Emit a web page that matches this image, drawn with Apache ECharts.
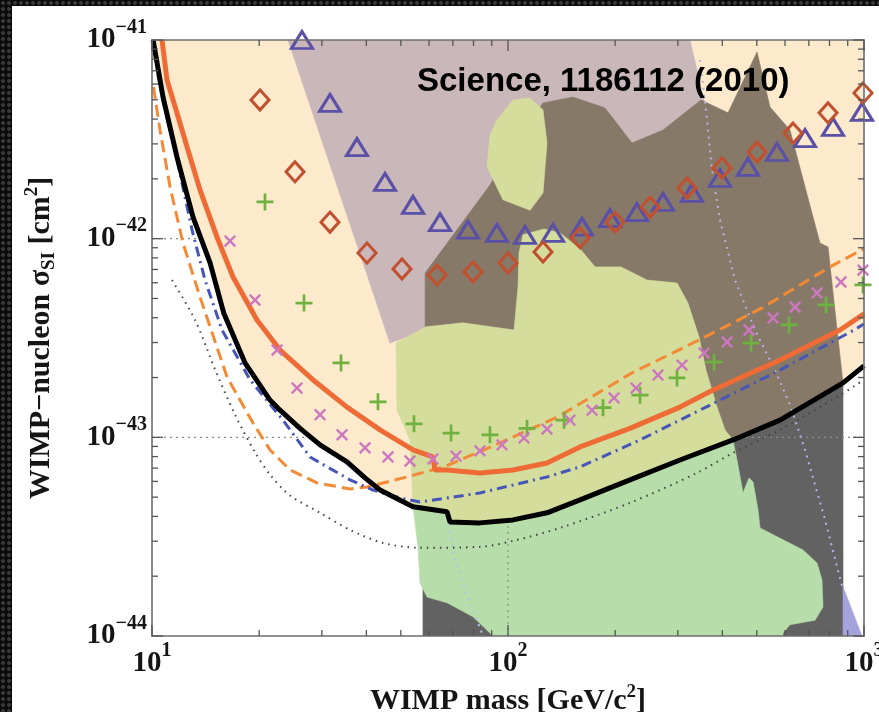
<!DOCTYPE html>
<html><head><meta charset="utf-8">
<script src="https://cdn.jsdelivr.net/npm/echarts@6/dist/echarts.min.js"></script>
<style>
html,body{margin:0;padding:0;width:879px;height:712px;overflow:hidden;
background-color:#0b0b0b;
background-image:radial-gradient(circle, #3a3a3a 1.5px, rgba(0,0,0,0) 2.2px);
background-size:6px 6px;}
#chart{position:absolute;left:12px;top:6px;width:867px;height:706px;background:#fff;}
</style></head><body><div id="chart"></div>
<script>
// ---------- data (mass in GeV/c^2, cross-section in cm^2) ----------
const xMajorTicks = [10, 100, 1000];
const xMinorTicks = [20,30,40,50,60,70,80,90,200,300,400,500,600,700,800,900];
const yMajorTicks = [1e-44, 1e-43, 1e-42, 1e-41];
const yMinorTicks = [2e-44,3e-44,4e-44,5e-44,6e-44,7e-44,8e-44,9e-44,
                     2e-43,3e-43,4e-43,5e-43,6e-43,7e-43,8e-43,9e-43,
                     2e-42,3e-42,4e-42,5e-42,6e-42,7e-42,8e-42,9e-42];
const gridSigma = [1e-43, 1e-42];
const gridMass = [100];

const blackLimit = [[10.07,1.0e-41],[10.74,5.16e-42],[11.75,2.58e-42],[13.04,1.285e-42],[14.56,7.55e-43],[15.9,4.23e-43],[18.25,2.37e-43],[21.45,1.54e-43],[22.89,1.37e-43],[26.05,1.11e-43],[29.65,9.16e-44],[35.3,7.52e-44],[39.66,6.25e-44],[43.7,5.43e-44],[54.1,4.47e-44],[67.4,4.22e-44],[68.7,3.75e-44],[83.4,3.71e-44],[103.3,3.84e-44],[128.7,4.17e-44],[159.3,4.84e-44],[220.1,6.11e-44],[304.2,7.69e-44],[428.5,9.70e-44],[580.8,1.22e-43],[873,1.88e-43],[1000,2.29e-43]];

const orangeLimit = [[10.67,1.0e-41],[11.02,6.29e-42],[11.75,4.30e-42],[12.54,2.90e-42],[13.64,1.76e-42],[15.22,1.02e-42],[16.89,6.41e-43],[19.72,3.90e-43],[22.89,2.75e-43],[28.3,1.95e-43],[35.3,1.42e-43],[43.7,1.09e-43],[54.1,8.65e-44],[61.5,7.97e-44],[62.4,6.85e-44],[67.4,6.85e-44],[83.4,6.62e-44],[103.3,6.85e-44],[128.7,7.43e-44],[159.3,8.95e-44],[220.1,1.11e-43],[304.2,1.42e-43],[376.6,1.73e-43],[580.8,2.45e-43],[856,3.47e-43],[1000,4.18e-43]];

const orangeDashed = [[10.1,5.8e-42],[10.53,3.52e-42],[11.24,1.82e-42],[12.22,9.51e-43],[13.64,5.09e-43],[16.25,2.01e-43],[19.22,1.18e-43],[21.45,8.65e-44],[24.41,6.85e-44],[29.08,5.90e-44],[35.98,5.50e-44],[40.18,5.62e-44],[52.03,6.32e-44],[66.1,7.10e-44],[94.95,9.37e-44],[138.2,1.27e-43],[223.0,2.11e-43],[344.0,3.09e-43],[517.0,4.48e-43],[802.7,7.21e-43],[1000,8.9e-43]];

const blueDashDot = [[10.39,6.67e-42],[10.88,4.45e-42],[11.6,2.79e-42],[12.95,1.11e-42],[14.09,6.19e-43],[15.73,3.47e-43],[18.85,1.95e-43],[23.33,1.22e-43],[27.79,7.96e-44],[35.98,6.11e-44],[41.77,5.43e-44],[49.74,4.95e-44],[56.59,4.73e-44],[67.4,4.95e-44],[83.4,5.25e-44],[128.7,6.32e-44],[159.3,7.10e-44],[234.9,9.70e-44],[359.9,1.42e-43],[580.8,2.18e-43],[937.4,3.47e-43],[1000,3.72e-43]];

const blackDotted = [[11.38,6.19e-43],[13.21,3.90e-43],[15.03,2.2e-43],[17.11,1.3e-43],[19.47,8.4e-44],[21.45,6.5e-44],[24.41,5.1e-44],[29.65,4.17e-44],[35.98,3.42e-44],[44.56,2.94e-44],[56.59,2.78e-44],[83.4,2.81e-44],[103.3,3.01e-44],[142.7,3.54e-44],[220.1,4.68e-44],[339.6,6.62e-44],[428.5,8.35e-44],[580.8,1.09e-43],[856,1.63e-43],[1000,1.95e-43]];

const lavenderDotted = [[346.2,7.93e-42],[359.9,4.45e-42],[374.1,2.22e-42],[394,1.24e-42],[434.1,6.19e-43],[494.1,3.47e-43],[562.3,2.18e-43],[619.6,1.46e-43],[682.9,8.65e-44],[777.3,3.84e-44],[873,1.71e-44]];

const lightBlueDotted = [[67.4,3.97e-44],[71.0,2.42e-44],[76.7,1.61e-44],[85.1,1.0e-44]];

const triangles = [[26.38,1.0e-41],[31.62,4.82e-42],[37.65,2.89e-42],[45.13,1.93e-42],[54.1,1.48e-42],[64.42,1.21e-42],[77.2,1.11e-42],[93.1,1.07e-42],[111.6,1.045e-42],[133.8,1.07e-42],[161.4,1.15e-42],[193.4,1.27e-42],[230.3,1.36e-42],[272.5,1.53e-42],[328.7,1.70e-42],[394.0,2.02e-42],[472.3,2.30e-42],[569.7,2.73e-42],[682.9,3.21e-42],[818.4,3.65e-42],[987.2,4.35e-42]];

const diamonds = [[20.11,4.99e-42],[25.22,2.17e-42],[31.62,1.21e-42],[40.18,8.47e-43],[50.37,7.04e-43],[63.18,6.57e-43],[79.74,6.80e-43],[100.0,7.55e-43],[125.4,8.57e-43],[159.3,1.01e-42],[199.8,1.21e-42],[250.6,1.44e-42],[318.3,1.80e-42],[399.2,2.27e-42],[500.7,2.73e-42],[631.8,3.40e-42],[792.5,4.30e-42],[993.6,5.41e-42]];

const pluses = [[20.77,1.53e-42],[26.73,4.74e-43],[33.96,2.37e-43],[43.13,1.51e-43],[54.45,1.17e-43],[69.18,1.05e-43],[88.99,1.03e-43],[113.1,1.11e-43],[143.7,1.22e-43],[184.9,1.41e-43],[234.9,1.63e-43],[298.4,1.99e-43],[379.1,2.39e-43],[481.6,2.98e-43],[615.7,3.68e-43],[782.4,4.64e-43],[993.6,5.85e-43]];

const crosses = [[16.56,9.73e-43],[19.47,4.91e-43],[22.45,2.75e-43],[25.55,1.77e-43],[29.65,1.30e-43],[34.18,1.03e-43],[39.66,8.85e-44],[46.02,7.97e-44],[53.05,7.60e-44],[61.55,7.78e-44],[71.44,8.05e-44],[83.42,8.55e-44],[96.2,9.16e-44],[110.9,9.93e-44],[128.7,1.10e-43],[149.3,1.22e-43],[172.2,1.37e-43],[198.6,1.58e-43],[228.8,1.77e-43],[263.8,2.06e-43],[308.2,2.31e-43],[355.3,2.66e-43],[412.3,3.02e-43],[475.3,3.47e-43],[555.2,3.99e-43],[640.3,4.53e-43],[738.0,5.33e-43],[861.7,6.05e-43],[993.6,6.95e-43]];

// shaded regions (boundaries; parts along the black limit are taken from blackLimit)
const mauveRegion = [[24.10,1e-41],[324.5,1e-41],[357.6,4.71e-42],[181.3,1.57e-42],[58.5,3.47e-43],[46.62,2.98e-43]];
const brownTopEdge = [[125.4,4.82e-42],[152.3,5.16e-42],[187.3,4.55e-42],[223.0,3.03e-42],[272.5,3.52e-42],[348.4,4.99e-42],[415.0,4.30e-42],[500.7,8.71e-42],[544.5,4.60e-42],[619.6,3.52e-42],[719.1,1.285e-42],[752.2,9.51e-43],[792.5,9.08e-43],[840.2,3.47e-43]];
const brownLeftEdge = [[58.5,3.60e-43],[58.5,6.71e-43],[89.0,1.86e-42],[101.3,2.79e-42]];
const brownMassRange = [873, 58.5];
const ellipseRegion = [[103.3,4.99e-42],[115.3,5.11e-42],[125.4,4.45e-42],[128.7,3.03e-42],[125.4,1.70e-42],[115.3,1.39e-42],[96.8,1.57e-42],[87.3,2.30e-42],[89.0,3.32e-42],[93.1,3.96e-42]];
const yellowGreenEdge = [[53.05,9.70e-44],[48.76,1.37e-43],[48.45,2.98e-43],[58.85,3.60e-43],[74.75,3.77e-43],[104.0,3.47e-43],[106.7,5.71e-43],[107.4,8.47e-43],[110.2,1.045e-42],[126.2,1.12e-42],[140.0,1.07e-42],[160.4,8.77e-43],[175.6,7.21e-43],[207.7,7.21e-43],[245.7,6.19e-43],[298.4,5.98e-43],[320.3,4.74e-43],[344.0,3.20e-43],[359.9,2.18e-43],[386.5,1.42e-43],[407.0,1.09e-43]];
const yellowGreenMassRange = [428.5, 54.1];
const greenEdge = [[439.9,7.69e-44],[457.2,5.25e-44],[475.3,6.25e-44],[487.8,5.97e-44],[503.8,4.32e-44],[510.4,3.50e-44],[592.3,3.05e-44],[674.4,2.71e-44],[738.0,2.33e-44],[762.2,1.91e-44],[767.1,1.40e-44],[728.5,1.20e-44],[619.6,1.14e-44],[592.3,1.035e-44],[592.3,1e-44],[90.76,1e-44],[79.74,1.25e-44],[67.4,1.47e-44],[59.23,1.57e-44],[56.59,1.85e-44],[55.87,2.81e-44]];
const greenMassRange = [54.1, 428.5];
const grayEdge = [[873,1e-44],[57.7,1e-44]];
const grayMassRange = [57.7, 873];
const lavenderRegion = [[873,1.77e-44],[987,1e-44],[873,1e-44]];

// ---------- helpers ----------
const U = 1e-44; // y-axis internal unit
function interpBlack(m){
  for (let i=0;i<blackLimit.length-1;i++){
    const a=blackLimit[i], b=blackLimit[i+1];
    if (m>=a[0] && m<=b[0]){
      const t=(Math.log(m)-Math.log(a[0]))/(Math.log(b[0])-Math.log(a[0]));
      return Math.exp(Math.log(a[1])+t*(Math.log(b[1])-Math.log(a[1])));
    }
  }
  return blackLimit[blackLimit.length-1][1];
}
function blackSeg(m1,m2){
  const lo=Math.min(m1,m2), hi=Math.max(m1,m2);
  const pts=[[lo,interpBlack(lo)]].concat(blackLimit.filter(p=>p[0]>lo&&p[0]<hi)).concat([[hi,interpBlack(hi)]]);
  return m1<=m2?pts:pts.reverse();
}
const conv = arr => arr.map(p=>[p[0], p[1]/U]);

function regionSeries(name, pts, color, z){
  return {type:'custom', name, z, silent:true, clip:true, data:[[10,1]],
    renderItem(params, api){
      const points = pts.map(p=>api.coord([p[0], p[1]/U]));
      return {type:'polygon', shape:{points}, style:{fill:color, stroke:color, lineWidth:0.6}};
    }};
}
function lineSeries(name, pts, color, width, type, z, smooth){
  return {type:'line', name, z, silent:true, data:conv(pts), symbol:'none', smooth:smooth||false,
    lineStyle:{color, width, type, cap:'butt'}};
}
function scatterSeries(name, pts, symbol, size, color, fill, bw, rot, z){
  return {type:'scatter', name, z, silent:true, clip:false, data:conv(pts), symbol, symbolSize:size,
    symbolRotate:rot||0,
    itemStyle:{color:fill, borderColor:color, borderWidth:bw, opacity:1}};
}

const peachRegion = [[10,1e-41]].concat(blackLimit, [[1000,1e-41]]);
const brownRegion = brownTopEdge.concat(blackSeg(brownMassRange[0], brownMassRange[1]), brownLeftEdge);
const yellowGreenRegion = yellowGreenEdge.concat(blackSeg(yellowGreenMassRange[0], yellowGreenMassRange[1]));
const greenRegion = blackSeg(greenMassRange[0], greenMassRange[1]).concat(greenEdge);
const grayRegion = blackSeg(grayMassRange[0], grayMassRange[1]).concat(grayEdge);

const SERIF = '"Liberation Serif","Times New Roman",serif';
const richTick = {
  b:{fontFamily:SERIF, fontWeight:'bold', fontSize:29, color:'#151515'},
  s:{fontFamily:SERIF, fontWeight:'bold', fontSize:20, color:'#151515', padding:[0,0,25,0]}
};
const richName = {
  n:{fontFamily:SERIF, fontWeight:'bold', fontSize:30, color:'#151515'},
  sb:{fontFamily:SERIF, fontWeight:'bold', fontSize:19, color:'#151515', padding:[16,0,0,0]},
  sp:{fontFamily:SERIF, fontWeight:'bold', fontSize:19, color:'#151515', padding:[0,0,18,0]}
};

const tickData = [];
xMajorTicks.forEach(v=>tickData.push([v,1,11,0]));
xMinorTicks.forEach(v=>tickData.push([v,1,6,0]));
yMajorTicks.forEach(v=>tickData.push([10,v/U,11,1]));
yMinorTicks.forEach(v=>tickData.push([10,v/U,6,1]));

const gridLines = [];
gridSigma.forEach(s=>gridLines.push({type:'line', z:3, silent:true, symbol:'none', data:[[10,s/U],[1000,s/U]], lineStyle:{color:'#8a8a8a', width:1.2, type:[2,4]}}));
gridMass.forEach(m=>gridLines.push({type:'line', z:3, silent:true, symbol:'none', data:[[m,1],[m,1000]], lineStyle:{color:'#7aa070', width:1.2, type:[2,4]}}));

const axisLineStyle = {show:true, lineStyle:{color:'#6e6e6e', width:1.6}};
const chart = echarts.init(document.getElementById('chart'), null, {renderer:'canvas'});
chart.setOption({
  animation:false,
  backgroundColor:'#ffffff',
  title:{text:'Science, 1186112 (2010)', left:405, top:59, padding:0, z:30,
    textStyle:{fontFamily:'"Liberation Sans",Arial,sans-serif', fontWeight:'bold', fontSize:33, color:'#000'}},
  grid:{left:140, top:34, right:15, bottom:76, containLabel:false, outerBoundsMode:'none'},
  xAxis:[
    {type:'log', logBase:10, min:10, max:1000, position:'bottom', z:20,
      axisLine:axisLineStyle, axisTick:{show:false}, splitLine:{show:false},
      axisLabel:{margin:5, formatter:v=>'{b|10}{s|'+Math.round(Math.log10(v))+'}', rich:richTick},
      name:'{n|WIMP mass [GeV/c}{sp|2}{n|]}', nameLocation:'middle', nameGap:37,
      nameTextStyle:{rich:richName}},
    {type:'log', logBase:10, min:10, max:1000, position:'top', z:20,
      axisLine:axisLineStyle, axisTick:{show:false}, splitLine:{show:false}, axisLabel:{show:false}}
  ],
  yAxis:[
    {type:'log', logBase:10, min:1, max:1000, position:'left', z:20,
      axisLine:axisLineStyle, axisTick:{show:false}, splitLine:{show:false},
      axisLabel:{margin:5, formatter:v=>'{b|10}{s|\u2212'+(44-Math.round(Math.log10(v)))+'}', rich:richTick},
      name:'{n|WIMP\u2212nucleon \u03c3}{sb|SI}{n| [cm}{sp|2}{n|]}', nameLocation:'middle', nameGap:92, nameRotate:90,
      nameTextStyle:{rich:richName}},
    {type:'log', logBase:10, min:1, max:1000, position:'right', z:20,
      axisLine:axisLineStyle, axisTick:{show:false}, splitLine:{show:false}, axisLabel:{show:false}}
  ],
  series:[
    regionSeries('gray', grayRegion, '#626262', 1),
    regionSeries('lavender', lavenderRegion, '#a5a3dc', 2),
    regionSeries('green', greenRegion, '#b7ddaa', 2),
    ...gridLines,
    regionSeries('peach', peachRegion, '#fdeacd', 4),
    regionSeries('mauve', mauveRegion, '#c9b7b9', 5),
    regionSeries('brown', brownRegion, '#867968', 6),
    regionSeries('yellowgreen', yellowGreenRegion, '#d5dd9d', 7),
    regionSeries('ellipse', ellipseRegion, '#d5dd9d', 7),
    lineSeries('lavenderDotted', lavenderDotted, '#b4b2e6', 2, [2,5], 8),
    lineSeries('lightBlueDotted', lightBlueDotted, '#a9c9ec', 2, [2,5], 8),
    lineSeries('blackDotted', blackDotted, '#444', 2, [1.5,5], 8, 0.3),
    lineSeries('orangeDashed', orangeDashed, '#f28a36', 3, [12,6], 9),
    lineSeries('blueDashDot', blueDashDot, '#4656b8', 3, [10,5,2,5], 9),
    lineSeries('orangeSolid', orangeLimit, '#ee6b36', 5, 'solid', 10),
    scatterSeries('triangles', triangles, 'triangle', [21,17], '#5a50a8', 'rgba(0,0,0,0)', 3, 0, 11),
    scatterSeries('diamonds', diamonds, 'diamond', [18,20], '#c2502e', 'rgba(0,0,0,0)', 3, 0, 11),
    scatterSeries('pluses', pluses, 'path://M0,4.2H4.2V0H5.8V4.2H10V5.8H5.8V10H4.2V5.8H0Z', 17, '#6fb23f', '#6fb23f', 0, 0, 11),
    scatterSeries('crosses', crosses, 'path://M0,4.2H4.2V0H5.8V4.2H10V5.8H5.8V10H4.2V5.8H0Z', 15, '#cc77c0', '#cc77c0', 0, 45, 11),
    lineSeries('black', blackLimit, '#000', 5, 'solid', 12),
    {type:'custom', name:'ticks', z:21, silent:true, clip:false, data:tickData,
      renderItem(params, api){
        const len=api.value(2), isY=api.value(3);
        const st={stroke:'#555', lineWidth:1.3};
        if (!isY){
          const m=api.value(0);
          const b=api.coord([m,1]), t=api.coord([m,1000]);
          return {type:'group', children:[
            {type:'line', shape:{x1:b[0],y1:b[1],x2:b[0],y2:b[1]-len}, style:st},
            {type:'line', shape:{x1:t[0],y1:t[1],x2:t[0],y2:t[1]+len}, style:st}]};
        } else {
          const y=api.value(1);
          const l=api.coord([10,y]), r=api.coord([1000,y]);
          return {type:'group', children:[
            {type:'line', shape:{x1:l[0],y1:l[1],x2:l[0]+len,y2:l[1]}, style:st},
            {type:'line', shape:{x1:r[0],y1:r[1],x2:r[0]-len,y2:r[1]}, style:st}]};
        }
      }}
  ]
});
</script></body></html>
